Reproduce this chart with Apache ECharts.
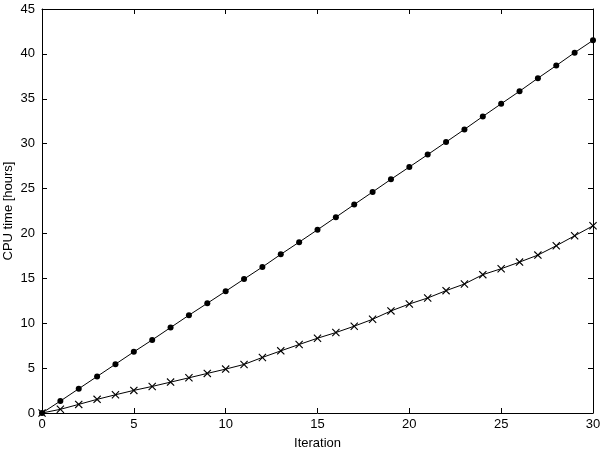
<!DOCTYPE html>
<html>
<head>
<meta charset="utf-8">
<script src="https://cdn.jsdelivr.net/npm/echarts@6/dist/echarts.min.js"></script>
<style>html,body{margin:0;padding:0;background:#fff}</style>
</head>
<body>
<div id="chart" style="width:600px;height:450px"></div>
<script>
const iterations = [0,1,2,3,4,5,6,7,8,9,10,11,12,13,14,15,16,17,18,19,20,21,22,23,24,25,26,27,28,29,30];
const dotTimes = [0,1.33,2.70,4.07,5.44,6.81,8.14,9.52,10.89,12.22,13.56,14.92,16.26,17.67,19.03,20.41,
  21.81,23.22,24.62,26.03,27.40,28.78,30.18,31.59,33.03,34.44,35.84,37.29,38.70,40.14,41.51];
const crossTimes = [0,0.41,0.96,1.52,2.03,2.52,2.96,3.44,3.92,4.41,4.89,5.41,6.19,6.92,7.63,8.33,
  8.96,9.67,10.44,11.37,12.14,12.81,13.63,14.37,15.41,16.07,16.81,17.59,18.63,19.74,20.85];

const font = 'Liberation Sans, Arial, sans-serif';
const crossSymbol = 'path://M0,1L1,0L5,4L9,0L10,1L6,5L10,9L9,10L5,6L1,10L0,9L4,5Z';

const pairs = arr => iterations.map((x, i) => [x, arr[i]]);

const baseAxis = {
  axisLine: { show: true, onZero: false, lineStyle: { color: '#000', width: 1 } },
  axisTick: { show: true, inside: true, length: 5, lineStyle: { color: '#000' } },
  splitLine: { show: false },
  axisLabel: { color: '#000', fontFamily: font, fontSize: 13 }
};

const chart = echarts.init(document.getElementById('chart'));
chart.setOption({
  animation: false,
  grid: { left: 42, right: 7, top: 9, bottom: 37, outerBoundsMode: 'none', containLabel: false },
  xAxis: [
    Object.assign({}, baseAxis, {
      type: 'value', min: 0, max: 30, interval: 5, position: 'bottom',
      name: 'Iteration', nameLocation: 'middle', nameGap: 24, nameMoveOverlap: false,
      nameTextStyle: { color: '#000', fontFamily: font, fontSize: 13 },
      axisLabel: { color: '#000', fontFamily: font, fontSize: 13, margin: 5 }
    }),
    Object.assign({}, baseAxis, {
      type: 'value', min: 0, max: 30, interval: 5, position: 'top',
      axisLabel: { show: false }
    })
  ],
  yAxis: [
    Object.assign({}, baseAxis, {
      type: 'value', min: 0, max: 45, interval: 5, position: 'left',
      name: 'CPU time [hours]', nameLocation: 'middle', nameGap: 27, nameMoveOverlap: false,
      nameTextStyle: { color: '#000', fontFamily: font, fontSize: 13 },
      axisLabel: { color: '#000', fontFamily: font, fontSize: 13, margin: 7 }
    }),
    Object.assign({}, baseAxis, {
      type: 'value', min: 0, max: 45, interval: 5, position: 'right',
      axisLabel: { show: false }
    })
  ],
  series: [
    {
      type: 'line', data: pairs(dotTimes),
      symbol: 'circle', symbolSize: 6, showAllSymbol: true,
      lineStyle: { color: '#000', width: 1 },
      itemStyle: { color: '#000' }
    },
    {
      type: 'line', data: pairs(crossTimes),
      symbol: crossSymbol, symbolSize: 8, showAllSymbol: true,
      lineStyle: { color: '#000', width: 1 },
      itemStyle: { color: '#000' }
    }
  ]
});
</script>
</body>
</html>
